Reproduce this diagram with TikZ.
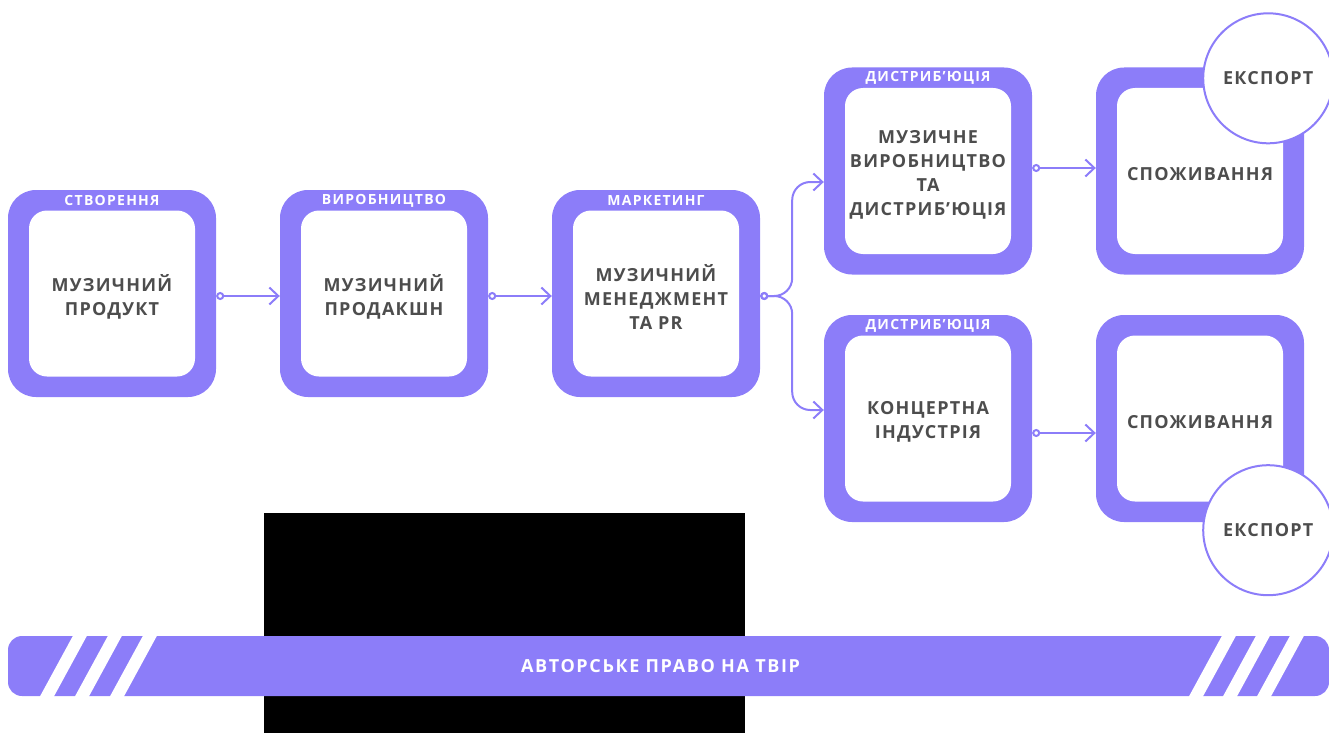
\documentclass[tikz,border=0pt]{standalone}
\usepackage{fontspec}
\setmainfont{Open Sans}
\usepackage{tikz}
\usetikzlibrary{positioning, arrows.meta}

\definecolor{lilac}{HTML}{8C7DF9}
\definecolor{ink}{HTML}{4D4D4D}

\newfontfamily\widefont[LetterSpace=7]{Open Sans}
\newfontfamily\phasefont[LetterSpace=9]{Open Sans}

\tikzset{
  stage/.style={rectangle, rounded corners=28pt, fill=lilac, minimum width=208pt, minimum height=207pt},
  card/.style={rectangle, rounded corners=18pt, fill=white, minimum width=166pt, minimum height=166pt, inner sep=0pt},
  stagetext/.style={align=center, inner sep=0pt, text=ink, font=\widefont\fontsize{18}{24}\selectfont\bfseries},
  phase/.style={text=white, inner sep=0pt, font=\phasefont\fontsize{14}{16}\selectfont\bfseries},
  exportdisc/.style={circle, draw=lilac, line width=2pt, fill=white, minimum size=130pt, inner sep=0pt, text=ink, font=\widefont\fontsize{18}{24}\selectfont\bfseries},
  flow/.style={draw=lilac, line width=2pt, {Circle[open, length=8pt, width=8pt]}-{Straight Barb[length=9pt, width=17pt]}},
  banner/.style={rectangle, rounded corners=14pt, fill=lilac, minimum width=1321pt, minimum height=60pt},
}

\begin{document}
\begin{tikzpicture}[x=1pt, y=-1pt, node distance=272pt]
        \useasboundingbox (0,0) rectangle (1329,733);

        \node (create) [stage] at (112,293.5) {};
        \node (produce) [stage, right of=create] {};
        \node (market) [stage, right of=produce] {};
        \node (distA) [stage, right of=market, yshift=122.5pt] {};
        \node (distB) [stage, right of=market, yshift=-125pt] {};
        \node (useA) [stage, right of=distA] {};
        \node (useB) [stage, right of=distB] {};

        \node (createIn) [card] at (create) {};
        \node (produceIn) [card] at (produce) {};
        \node (marketIn) [card] at (market) {};
        \node (distAIn) [card] at (distA) {};
        \node (distBIn) [card] at (distB) {};
        \node (useAIn) [card] at (useA) {};
        \node (useBIn) [card] at (useB) {};

        \node (createText) [stagetext] at ([yshift=-3.5pt]create) {МУЗИЧНИЙ\\ПРОДУКТ};
        \node (produceText) [stagetext] at ([yshift=-3.5pt]produce) {МУЗИЧНИЙ\\ПРОДАКШН};
        \node (marketText) [stagetext] at ([yshift=-3.5pt]market) {МУЗИЧНИЙ\\МЕНЕДЖМЕНТ\\ТА PR};
        \node (distAText) [stagetext] at ([yshift=-3.5pt]distA) {МУЗИЧНЕ\\ВИРОБНИЦТВО\\ТА\\ДИСТРИБ’ЮЦІЯ};
        \node (distBText) [stagetext] at ([yshift=-3.5pt]distB) {КОНЦЕРТНА\\ІНДУСТРІЯ};
        \node (useAText) [stagetext] at ([yshift=-3.5pt]useA) {СПОЖИВАННЯ};
        \node (useBText) [stagetext] at ([yshift=-3.5pt]useB) {СПОЖИВАННЯ};

        \node (createTop) [phase] at ([yshift=-11pt]create.north) {СТВОРЕННЯ};
        \node (produceTop) [phase] at ([yshift=-11pt]produce.north) {ВИРОБНИЦТВО};
        \node (marketTop) [phase] at ([yshift=-11pt]market.north) {МАРКЕТИНГ};
        \node (distATop) [phase] at ([yshift=-11pt]distA.north) {ДИСТРИБ’ЮЦІЯ};
        \node (distBTop) [phase] at ([yshift=-11pt]distB.north) {ДИСТРИБ’ЮЦІЯ};

        \node (expA) [exportdisc] at ([xshift=-36pt, yshift=-11pt]useA.north east) {ЕКСПОРТ};
        \node (expB) [exportdisc] at ([xshift=-36pt, yshift=-8pt]useB.south east) {ЕКСПОРТ};

        % Lines
        \draw [flow] ([yshift=-2.5pt]create.east) -- ([yshift=-2.5pt]produce.west);
        \draw [flow] ([yshift=-2.5pt]produce.east) -- ([yshift=-2.5pt]market.west);
        \draw [flow, rounded corners=18pt] ([yshift=-2.5pt]market.east) -- ++(32,0) |- ([yshift=-11pt]distA.west);
        \draw [flow, rounded corners=18pt] ([yshift=-2.5pt]market.east) -- ++(32,0) |- ([yshift=8.5pt]distB.west);
        \draw [flow] ([yshift=3pt]distA.east) -- ([yshift=3pt]useA.west);
        \draw [flow] ([yshift=-14.5pt]distB.east) -- ([yshift=-14.5pt]useB.west);

        % copyright band
        \fill [black] (264,513) rectangle (745,733);
        \node (rights) [banner] at (668.5,666) {};
        \foreach \x in {73,108,143,1222,1256,1290}
            \fill [white] (\x+2,632) -- (\x+16,632) -- (\x-21,700) -- (\x-35,700) -- cycle;
        \node (rightsText) [text=white, font=\phasefont\fontsize{18}{20}\selectfont\bfseries] at (660.5,666) {АВТОРСЬКЕ ПРАВО НА ТВІР};

    \end{tikzpicture}
\end{document}
